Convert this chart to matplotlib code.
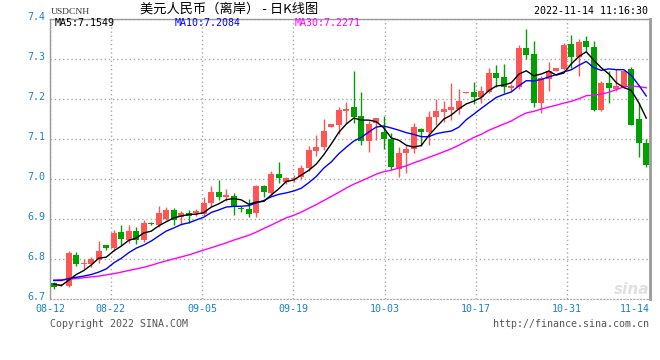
import numpy as np
import pandas as pd
import matplotlib
matplotlib.use("Agg")
import matplotlib.pyplot as plt
from matplotlib.transforms import ScaledTranslation

# ---------------- data ----------------
opens = [6.740, 6.735, 6.734, 6.810, 6.788, 6.789, 6.798, 6.835, 6.828, 6.868,
         6.849, 6.870, 6.848, 6.891, 6.886, 6.900, 6.924, 6.906, 6.916, 6.915,
         6.913, 6.941, 6.968, 6.955, 6.958, 6.927, 6.926, 6.917, 6.983, 6.965,
         7.013, 6.994, 7.000, 7.005, 7.029, 7.071, 7.081, 7.131, 7.136, 7.171,
         7.181, 7.158, 7.096, 7.142, 7.119, 7.102, 7.027, 7.065, 7.075, 7.127,
         7.119, 7.155, 7.169, 7.174, 7.176, 7.217, 7.219, 7.206, 7.219, 7.267,
         7.255, 7.228, 7.230, 7.328, 7.313, 7.191, 7.250, 7.271, 7.276, 7.338,
         7.306, 7.345, 7.331, 7.173, 7.242, 7.227, 7.230, 7.275, 7.150, 7.090]
highs = [6.744, 6.738, 6.820, 6.818, 6.800, 6.805, 6.846, 6.836, 6.873, 6.886,
         6.886, 6.880, 6.898, 6.894, 6.933, 6.930, 6.929, 6.921, 6.924, 6.925,
         6.955, 6.983, 6.998, 6.977, 6.965, 6.933, 6.950, 6.986, 6.985, 7.021,
         7.043, 7.006, 7.012, 7.035, 7.083, 7.111, 7.150, 7.139, 7.181, 7.193,
         7.271, 7.218, 7.146, 7.153, 7.159, 7.115, 7.080, 7.087, 7.142, 7.128,
         7.171, 7.202, 7.196, 7.241, 7.225, 7.219, 7.244, 7.234, 7.278, 7.286,
         7.288, 7.238, 7.336, 7.377, 7.345, 7.259, 7.294, 7.279, 7.342, 7.360,
         7.352, 7.358, 7.345, 7.246, 7.271, 7.277, 7.273, 7.281, 7.190, 7.102]
lows = [6.725, 6.733, 6.730, 6.783, 6.776, 6.781, 6.792, 6.823, 6.821, 6.836,
        6.841, 6.839, 6.843, 6.885, 6.881, 6.898, 6.886, 6.886, 6.891, 6.908,
        6.908, 6.931, 6.948, 6.946, 6.911, 6.919, 6.905, 6.905, 6.955, 6.962,
        6.990, 6.988, 6.993, 7.002, 7.021, 7.058, 7.073, 7.131, 7.113, 7.140,
        7.140, 7.085, 7.069, 7.098, 7.075, 7.023, 7.006, 7.016, 7.065, 7.083,
        7.085, 7.136, 7.144, 7.148, 7.163, 7.216, 7.188, 7.191, 7.215, 7.230,
        7.216, 7.222, 7.227, 7.302, 7.181, 7.165, 7.222, 7.271, 7.273, 7.279,
        7.259, 7.321, 7.171, 7.172, 7.191, 7.222, 7.229, 7.135, 7.056, 7.031]
closes = [6.730, 6.736, 6.815, 6.788, 6.790, 6.800, 6.821, 6.828, 6.866, 6.850,
          6.872, 6.849, 6.892, 6.889, 6.916, 6.923, 6.898, 6.915, 6.908, 6.921,
          6.941, 6.968, 6.955, 6.961, 6.934, 6.925, 6.913, 6.983, 6.969, 7.013,
          7.003, 7.004, 7.003, 7.029, 7.073, 7.081, 7.121, 7.138, 7.173, 7.177,
          7.156, 7.096, 7.138, 7.153, 7.100, 7.031, 7.067, 7.075, 7.130, 7.119,
          7.156, 7.171, 7.176, 7.181, 7.196, 7.218, 7.206, 7.221, 7.267, 7.254,
          7.231, 7.233, 7.328, 7.311, 7.191, 7.253, 7.270, 7.278, 7.336, 7.306,
          7.343, 7.331, 7.173, 7.242, 7.229, 7.233, 7.270, 7.137, 7.090, 7.035]

# moving-average values at the start of the window (history before the first bar)
ma5_head = [6.738, 6.734, 6.748, 6.762]
ma10_head = [6.747, 6.747, 6.752, 6.755, 6.758, 6.762, 6.768, 6.776, 6.791]
ma30_head = [6.748, 6.749, 6.750, 6.752, 6.754, 6.756, 6.758, 6.761, 6.764, 6.768,
             6.772, 6.776, 6.780, 6.785, 6.791, 6.796, 6.801, 6.806, 6.811, 6.817,
             6.823, 6.829, 6.835, 6.841, 6.848, 6.854, 6.860, 6.868, 6.877]

ma_names = ["MA5", "MA10", "MA30"]
ma_last = ["7.1549", "7.2084", "7.2271"]
date_labels = ["08-12", "08-22", "09-05", "09-19", "10-03", "10-17", "10-31", "11-14"]
y_values = [6.7, 6.8, 6.9, 7.0, 7.1, 7.2, 7.3, 7.4]
symbol = "USDCNH"
title = "美元人民币（离岸） - 日K线图"
timestamp = "2022-11-14 11:16:30"
copyright_text = "Copyright 2022 SINA.COM"
url_text = "http://finance.sina.com.cn"

# ---------------- styling ----------------
RED = "#ff5555"
GREEN = "#00a000"
BLUE_TXT = "#1a80d0"
GRID = "#a8a8a8"
MONO = "DejaVu Sans Mono"

W, H = 660, 360
fig = plt.figure(figsize=(W / 100, H / 100), dpi=100)
fig.patch.set_facecolor("white")
L, R, T, B = 50, 650, 19.3, 299.3
ax = fig.add_axes([L / W, 1 - B / H, (R - L) / W, (B - T) / H])

n = len(closes)
x = np.arange(n)
o = np.array(opens); c = np.array(closes); hi = np.array(highs); lo = np.array(lows)
up = c >= o
cols = np.where(up, RED, GREEN)

ax.set_xlim(-0.5, n - 0.5)
ax.set_ylim(y_values[0], y_values[-1])

# wicks and bodies
ax.vlines(x, lo, hi, colors=cols, linewidth=1.0, zorder=3)
body_h = np.maximum(np.abs(c - o), 0.0025)
ax.bar(x, body_h, bottom=np.minimum(o, c), width=0.8, color=cols,
       linewidth=0, zorder=4)

# moving averages
s = pd.Series(closes)
ma5 = s.rolling(5).mean().to_numpy(); ma5[:len(ma5_head)] = ma5_head
ma10 = s.rolling(10).mean().to_numpy(); ma10[:len(ma10_head)] = ma10_head
ma30 = s.rolling(30).mean().to_numpy(); ma30[:len(ma30_head)] = ma30_head
ax.plot(x, ma30, color="#ff00ff", lw=1.0, zorder=5)
ax.plot(x, ma10, color="#0000ff", lw=1.0, zorder=5)
ax.plot(x, ma5, color="#000000", lw=1.0, zorder=6)

# y ticks
ax.set_yticks(y_values)
ax.set_yticklabels([f"{v:.1f}" for v in y_values])
# x ticks (label slots are evenly spaced across the frame)
px_per_bar = (R - L) / n
grid_px = [60.7 + 91.3 * k for k in range(6)]
grid_x = [-0.5 + p / px_per_bar for p in grid_px]
ax.set_xticks([-0.5] + grid_x + [n - 0.5])
ax.set_xticklabels(date_labels)
ax.tick_params(axis="both", length=0, colors=BLUE_TXT, labelsize=7.2)
ax.tick_params(axis="y", pad=3)
ax.tick_params(axis="x", pad=3.5)
up_shift = ScaledTranslation(0, 2.5 / 72, fig.dpi_scale_trans)
for lab in ax.get_yticklabels():
    lab.set_fontfamily(MONO)
    lab.set_color(BLUE_TXT)
    lab.set_transform(lab.get_transform() + up_shift)
xl = ax.get_xticklabels()
for i, lab in enumerate(xl):
    lab.set_fontfamily(MONO)
    lab.set_color(BLUE_TXT)
    if i == len(xl) - 1:
        lab.set_horizontalalignment("right")
ax.grid(True, color=GRID, linestyle=(0, (1, 2)), linewidth=1.0, zorder=0)
ax.set_axisbelow(True)

for side in ["left", "top"]:
    ax.spines[side].set_color("#9a9a9a"); ax.spines[side].set_linewidth(1.0)
ax.spines["right"].set_color("#9a9a9a"); ax.spines["right"].set_linewidth(2.0)
ax.spines["bottom"].set_color(GRID); ax.spines["bottom"].set_linestyle((0, (1, 2)))

# legend row
ma_cols = ["#000000", "#0000ff", "#ff00ff"]
for k, (nm, val, col) in enumerate(zip(ma_names, ma_last, ma_cols)):
    fig.text((55 + 120 * k) / W, 1 - 23.5 / H, f"{nm}:{val}", color=col,
             fontfamily=MONO, fontsize=7.2, va="center", ha="left")

# header
fig.text(51 / W, 1 - 11.5 / H, symbol, fontfamily="Liberation Serif",
         fontsize=6.8, color="#333333", va="center", ha="left")
fig.text(140 / W, 1 - 9.5 / H, title, fontfamily=["Noto Sans CJK SC", "DejaVu Sans"],
         fontsize=9.5, color="#000000", va="center", ha="left")
fig.text(648 / W, 1 - 11.3 / H, timestamp, fontfamily=MONO, fontsize=7.2,
         color="#000000", va="center", ha="right")

# footer
fig.text(50 / W, 1 - 324 / H, copyright_text, fontfamily=MONO, fontsize=7.2,
         color="#555555", va="center", ha="left")
fig.text(649 / W, 1 - 324 / H, url_text, fontfamily=MONO, fontsize=7.2,
         color="#555555", va="center", ha="right")

# watermark
fig.text(632 / W, 1 - 290 / H, "sina", fontsize=11, fontstyle="italic",
         fontweight="bold", color="#e0e0e0", va="center", ha="center", zorder=1)

fig.savefig("out.png", dpi=100, facecolor="white")
